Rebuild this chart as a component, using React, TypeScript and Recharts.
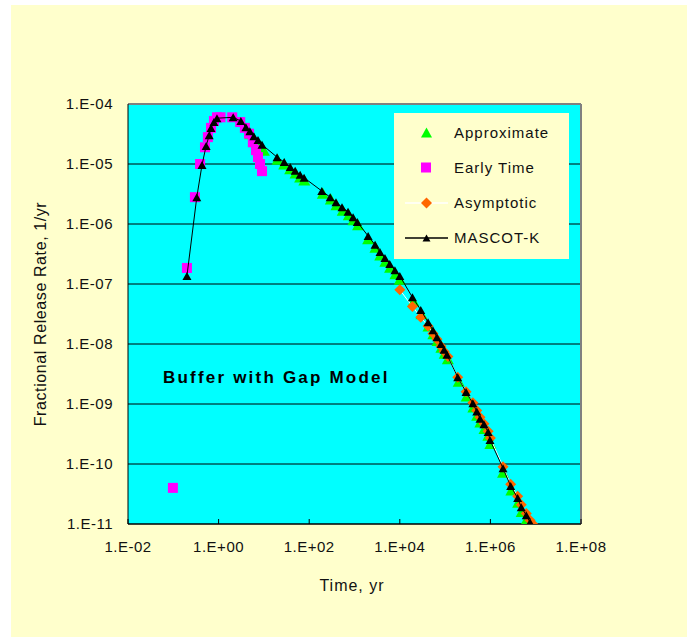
import React from 'react';
import {
  ScatterChart,
  Scatter,
  XAxis,
  YAxis,
  CartesianGrid,
  ReferenceLine,
} from 'recharts';

// tick values (decades)
const xTicks = [1e-2, 1e0, 1e2, 1e4, 1e6, 1e8];
const yTicks = [1e-11, 1e-10, 1e-9, 1e-8, 1e-7, 1e-6, 1e-5, 1e-4];

// MASCOT-K
const mascotTime = [
  0.2, 0.33, 0.43, 0.53, 0.62, 0.68, 0.79, 0.92, 2.1, 3.1, 4, 4.9, 6, 7.4, 9.1,
  19.5, 28, 38, 49, 63, 77, 190, 290, 390, 530, 720, 930, 1150, 2000, 2850, 3650,
  4700, 6000, 7800, 1e4, 1.9e4, 2.9e4, 4.2e4, 5.4e4, 6.6e4, 8.1e4, 9.5e4, 1.1e5,
  1.9e5, 2.9e5, 4.1e5, 5e5, 5.9e5, 7.2e5, 8.9e5, 9.8e5, 1.9e6, 2.8e6, 4e6, 4.8e6,
  6.2e6, 7.5e6, 8.6e6,
];
const mascotRate = [
  1.36e-7, 2.8e-6, 9.6e-6, 2e-5, 3e-5, 4e-5, 5e-5, 5.8e-5, 6e-5, 5.2e-5, 4.1e-5,
  3.5e-5, 2.9e-5, 2.5e-5, 2.1e-5, 1.3e-5, 1.08e-5, 8.9e-6, 7.7e-6, 6.6e-6, 5.9e-6,
  3.55e-6, 2.8e-6, 2.3e-6, 1.9e-6, 1.6e-6, 1.3e-6, 1.08e-6, 6.3e-7, 4.5e-7, 3.4e-7,
  2.7e-7, 2.15e-7, 1.7e-7, 1.36e-7, 6e-8, 3.7e-8, 2.3e-8, 1.7e-8, 1.3e-8, 1e-8,
  8e-9, 6.6e-9, 2.8e-9, 1.58e-9, 1.03e-9, 7.5e-10, 5.7e-10, 4.6e-10, 3.4e-10,
  2.5e-10, 8.5e-11, 4.3e-11, 2.7e-11, 1.9e-11, 1.4e-11, 1.07e-11, 8.5e-12,
];

// Early Time
const earlyTime = [
  0.098, 0.2, 0.3, 0.39, 0.5, 0.58, 0.68, 0.79, 0.92, 1.1, 2, 3, 3.8, 4.7, 5.7,
  6.7, 7.4, 8.2, 9.1,
];
const earlyRate = [
  4e-11, 1.85e-7, 2.8e-6, 1e-5, 1.9e-5, 2.8e-5, 4e-5, 5.2e-5, 6e-5, 6e-5, 6e-5,
  5e-5, 4e-5, 3.2e-5, 2.3e-5, 1.7e-5, 1.3e-5, 1e-5, 7.6e-6,
];

// Approximate
const approxTime = [
  5, 6, 7, 8.5, 10, 20, 28, 38, 50, 63, 78, 200, 300, 400, 550, 750, 950, 1200,
  2000, 2900, 3700, 4800, 6100, 8000, 1e4, 2e4, 3e4, 4.3e4, 5.5e4, 6.8e4, 8.3e4,
  9.8e4, 1.15e5, 2e5, 3e5, 4.2e5, 5.1e5, 6e5, 7.4e5, 9e5, 1e6, 1.9e6, 2.9e6,
  4.1e6, 4.9e6, 6.3e6, 7.7e6,
];
const approxRate = [
  3.2e-5, 2.7e-5, 2.3e-5, 2e-5, 1.7e-5, 1.2e-5, 1e-5, 8.3e-6, 7.1e-6,
  6.1e-6, 5.4e-6, 3.25e-6, 2.6e-6, 2.1e-6, 1.7e-6, 1.42e-6, 1.18e-6, 9.7e-7, 5.7e-7,
  4.1e-7, 3.05e-7, 2.4e-7, 1.9e-7, 1.48e-7, 1.2e-7, 5.2e-8, 3.2e-8, 2e-8, 1.48e-8,
  1.14e-8, 8.8e-9, 7e-9, 5.7e-9, 2.4e-9, 1.36e-9, 8.9e-10, 6.5e-10, 5e-10,
  3.9e-10, 3e-10, 2.2e-10, 7.3e-11, 3.7e-11, 2.3e-11, 1.62e-11, 1.2e-11,
  9.2e-12,
];

// Asymptotic
const asymTime = [
  1e4, 1.9e4, 2.9e4, 4.2e4, 5.4e4, 6.6e4, 8.1e4, 9.5e4, 1.15e5, 1.9e5, 2.9e5,
  4.1e5, 5e5, 5.9e5, 7.2e5, 8.9e5, 1e6, 1.9e6, 2.8e6, 4e6, 4.8e6, 6.2e6, 7.5e6,
  8.6e6,
];
const asymRate = [
  8e-8, 4.2e-8, 2.8e-8, 2e-8, 1.5e-8, 1.2e-8, 9.2e-9, 7.5e-9, 6.2e-9, 2.8e-9,
  1.6e-9, 1.05e-9, 7.8e-10, 6e-10, 4.7e-10, 3.5e-10, 2.7e-10, 9e-11, 4.6e-11,
  2.9e-11, 2.1e-11, 1.5e-11, 1.15e-11, 1e-11,
];

const zip = (ts: number[], rs: number[]) => ts.map((t, i) => ({ t, r: rs[i] }));

const mascot = zip(mascotTime, mascotRate);
const early = zip(earlyTime, earlyRate);
const approx = zip(approxTime, approxRate);
const asym = zip(asymTime, asymRate);

const FONT = 'Arial, "Liberation Sans", sans-serif';

const sci = (v: number) => {
  const e = Math.round(Math.log10(v));
  const s = Math.abs(e).toString().padStart(2, '0');
  return `1.E${e < 0 ? '-' : '+'}${s}`;
};

const triangle = (w: number, h: number, fill: string) => (props: any) => {
  const { cx, cy } = props;
  if (cx == null || cy == null) return null;
  return (
    <polygon
      points={`${cx - w / 2},${cy + h / 2} ${cx + w / 2},${cy + h / 2} ${cx},${cy - h / 2}`}
      fill={fill}
    />
  );
};

const square = (s: number, fill: string) => (props: any) => {
  const { cx, cy } = props;
  if (cx == null || cy == null) return null;
  return <rect x={cx - s / 2} y={cy - s / 2} width={s} height={s} fill={fill} />;
};

const diamond = (s: number, fill: string) => (props: any) => {
  const { cx, cy } = props;
  if (cx == null || cy == null) return null;
  const d = s / 2;
  return (
    <polygon
      points={`${cx},${cy - d} ${cx + d},${cy} ${cx},${cy + d} ${cx - d},${cy}`}
      fill={fill}
    />
  );
};

const legendItems = [
  { name: 'Approximate', line: null, marker: <polygon points="0,10 11,10 5.5,0" fill="#00FF00" /> },
  { name: 'Early Time', line: null, marker: <rect x={0} y={0} width={10} height={10} fill="#FF00FF" /> },
  { name: 'Asymptotic', line: '#FFFFFF', marker: <polygon points="5.5,0 11,5.5 5.5,11 0,5.5" fill="#FF6600" /> },
  { name: 'MASCOT-K', line: '#000000', marker: <polygon points="1.5,9 9.5,9 5.5,2" fill="#000000" /> },
];

export default function App() {
  return (
    <div
      style={{
        position: 'absolute',
        left: 11,
        top: 5,
        width: 676,
        height: 632,
        background: '#FFFFCC',
        fontFamily: FONT,
      }}
    >
      <ScatterChart
        width={676}
        height={632}
        margin={{ top: 99, right: 106, bottom: 83, left: 37 }}
      >
        <CartesianGrid vertical={false} stroke="#000" fill="#00FFFF" />
        <XAxis
          type="number"
          dataKey="t"
          scale="log"
          domain={[1e-2, 1e8]}
          ticks={xTicks}
          tickFormatter={sci}
          allowDataOverflow
          height={30}
          axisLine={{ stroke: '#000' }}
          tickLine={{ stroke: '#000' }}
          tickSize={-5}
          tickMargin={22}
          tick={{ fill: '#111', fontSize: 15, fontFamily: FONT, letterSpacing: 0.5 }}
        />
        <YAxis
          type="number"
          dataKey="r"
          scale="log"
          domain={[1e-11, 1e-4]}
          ticks={yTicks}
          tickFormatter={sci}
          allowDataOverflow
          width={80}
          axisLine={{ stroke: '#000' }}
          tickLine={false}
          tickSize={0}
          tickMargin={15}
          tick={{ fill: '#111', fontSize: 15, fontFamily: FONT, letterSpacing: 0.5 }}
        />
        <ReferenceLine y={1e-4} stroke="#808080" strokeWidth={2} />
        <ReferenceLine x={1e8} stroke="#808080" strokeWidth={2} />
        <Scatter
          name="Approximate"
          data={approx}
          shape={triangle(12, 11, '#00FF00')}
          isAnimationActive={false}
        />
        <Scatter
          name="Early Time"
          data={early}
          shape={square(10, '#FF00FF')}
          isAnimationActive={false}
        />
        <Scatter
          name="Asymptotic"
          data={asym}
          line={{ stroke: '#FFFFFF', strokeWidth: 1 }}
          shape={diamond(11, '#FF6600')}
          isAnimationActive={false}
        />
        <Scatter
          name="MASCOT-K"
          data={mascot}
          line={{ stroke: '#000000', strokeWidth: 1 }}
          shape={triangle(9, 8, '#000000')}
          isAnimationActive={false}
        />
      </ScatterChart>

      {/* legend */}
      <div
        style={{
          position: 'absolute',
          left: 383,
          top: 108,
          width: 175,
          height: 146,
          background: '#FFFFCC',
        }}
      >
        {legendItems.map((item, i) => (
          <div
            key={item.name}
            style={{
              position: 'absolute',
              left: 0,
              top: 10 + i * 35,
              height: 20,
              width: 175,
            }}
          >
            <svg width={50} height={20} style={{ position: 'absolute', left: 8, top: 0 }}>
              {item.line && <line x1={3} y1={10} x2={46} y2={10} stroke={item.line} strokeWidth={1.5} />}
              <g transform="translate(19,4.5)">{item.marker}</g>
            </svg>
            <span
              style={{
                position: 'absolute',
                left: 60,
                top: 0,
                lineHeight: '20px',
                fontSize: 15,
                letterSpacing: 1,
                color: '#111',
                whiteSpace: 'nowrap',
              }}
            >
              {item.name}
            </span>
          </div>
        ))}
      </div>

      {/* annotation */}
      <div
        style={{
          position: 'absolute',
          left: 152,
          top: 362,
          fontSize: 17,
          fontWeight: 'bold',
          letterSpacing: 2.2,
          whiteSpace: 'nowrap',
          lineHeight: '22px',
        }}
      >
        Buffer with Gap Model
      </div>

      {/* axis titles */}
      <div
        style={{
          position: 'absolute',
          left: 30,
          top: 309,
          width: 0,
          height: 0,
        }}
      >
        <div
          style={{
            position: 'absolute',
            left: 0,
            top: 0,
            transform: 'translate(-50%, -50%) rotate(-90deg)',
            fontSize: 16,
            letterSpacing: 0.6,
            whiteSpace: 'nowrap',
            color: '#111',
          }}
        >
          Fractional Release Rate, 1/yr
        </div>
      </div>
      <div
        style={{
          position: 'absolute',
          left: 341,
          top: 581,
          transform: 'translate(-50%, -50%)',
          fontSize: 16,
          letterSpacing: 1,
          whiteSpace: 'nowrap',
          color: '#111',
        }}
      >
        Time, yr
      </div>
    </div>
  );
}
